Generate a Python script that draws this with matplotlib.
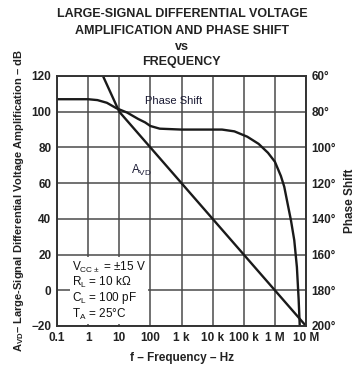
import numpy as np
import matplotlib
matplotlib.use("Agg")
import matplotlib.pyplot as plt

plt.rcParams["font.family"] = ["Liberation Sans", "DejaVu Sans"]
plt.rcParams["mathtext.fontset"] = "custom"
plt.rcParams["mathtext.rm"] = "Liberation Sans"
plt.rcParams["mathtext.bf"] = "Liberation Sans:bold"

# --- data ---
gain_freq = [3, 10, 100, 1e3, 1e4, 1e5, 1e6, 1e7]
gain_db = [120, 100, 80, 60, 40, 20, 0, -20]

phase_freq = [0.1, 1, 2, 4, 8, 18, 40, 68, 100, 200, 1e3, 2e4, 5e4, 1.3e5,
              3e5, 6e5, 1e6, 1.56e6, 2e6, 2.6e6, 3.3e6, 4.2e6, 5.1e6, 5.8e6, 6.3e6]
phase_deg = [73, 73, 73.5, 75, 78, 80.5, 84, 86, 88, 89.5, 90, 90, 91, 94,
             98, 103, 108, 116, 122, 132, 141, 152, 167, 185, 200]

x_ticks = [0.1, 1, 10, 100, 1e3, 1e4, 1e5, 1e6, 1e7]
x_labels = ["0.1", "1", "10", "100", "1 k", "10 k", "100 k", "1 M", "10 M"]
y_ticks = [-20, 0, 20, 40, 60, 80, 100, 120]
y_labels = ["\u221220", "0", "20", "40", "60", "80", "100", "120"]
ph_ticks = [60, 80, 100, 120, 140, 160, 180, 200]
ph_labels = [f"{t}\u00b0" for t in ph_ticks]

fig = plt.figure(figsize=(3.58, 3.69), dpi=100)
ax = fig.add_axes([57 / 358, 43 / 369, 249 / 358, 250 / 369])
ax2 = ax.twinx()

ax.set_xscale("log")
ax.set_xlim(0.1, 1e7)
ax.set_ylim(-20, 120)
ax2.set_ylim(200, 60)

ax.set_xticks(x_ticks)
ax.set_xticklabels(x_labels)
ax.minorticks_off()
ax.set_yticks(y_ticks)
ax.set_yticklabels(y_labels)
ax2.set_yticks(ph_ticks)
ax2.set_yticklabels(ph_labels)

for a in (ax, ax2):
    a.tick_params(length=0, labelsize=8.5, pad=4)
    for lbl in a.get_xticklabels() + a.get_yticklabels():
        lbl.set_fontweight("bold")
        lbl.set_color("#222222")
    for s in a.spines.values():
        s.set_color("#333333")
        s.set_linewidth(1.2)

ax.grid(True, which="major", color="#4a4a4a", linewidth=1.1)
ax.set_axisbelow(True)

ax.plot(gain_freq, gain_db, color="#1a1a1a", lw=1.7, solid_capstyle="butt")
ax2.plot(phase_freq, phase_deg, color="#1a1a1a", lw=1.7)

ax.text(550, 106, "Phase Shift", fontsize=8, color="#1a1a33",
        ha="center", va="center")
ax.text(50, 67, r"A$_{\rm VD}$", fontsize=8.5, color="#1a1a33",
        ha="center", va="center")

cond = ("V$_{\\rm CC\\pm}$ = \u00b115 V\n"
        "R$_{\\rm L}$ = 10 k\u03a9\n"
        "C$_{\\rm L}$ = 100 pF\n"
        "T$_{\\rm A}$ = 25\u00b0C")
ax.text(0.3, -17.5, cond, fontsize=8.5, color="#111111", ha="left", va="bottom",
        linespacing=1.02,
        bbox=dict(facecolor="white", edgecolor="none", pad=1.5), zorder=5)

ax.set_xlabel("f \u2013 Frequency \u2013 Hz", fontsize=8.5, fontweight="bold",
              color="#222222", labelpad=6)
ax.set_ylabel("A$_{\\mathbf{VD}}$\u2013 Large-Signal Differential Voltage Amplification \u2013 dB",
              fontsize=8, fontweight="bold", color="#222222", labelpad=4)
ax2.set_ylabel("Phase Shift", fontsize=8.5, fontweight="bold", color="#222222",
               labelpad=6)

fig.text(0.508, 0.962, "LARGE-SIGNAL DIFFERENTIAL VOLTAGE", ha="center",
         va="center", fontsize=9, fontweight="bold", color="#222222")
fig.text(0.508, 0.916, "AMPLIFICATION AND PHASE SHIFT", ha="center",
         va="center", fontsize=9, fontweight="bold", color="#222222")
fig.text(0.508, 0.873, "vs", ha="center", va="center", fontsize=9,
         fontweight="bold", color="#222222")
fig.text(0.508, 0.831, "FREQUENCY", ha="center", va="center", fontsize=9,
         fontweight="bold", color="#222222")

fig.savefig("out.png", dpi=100)
